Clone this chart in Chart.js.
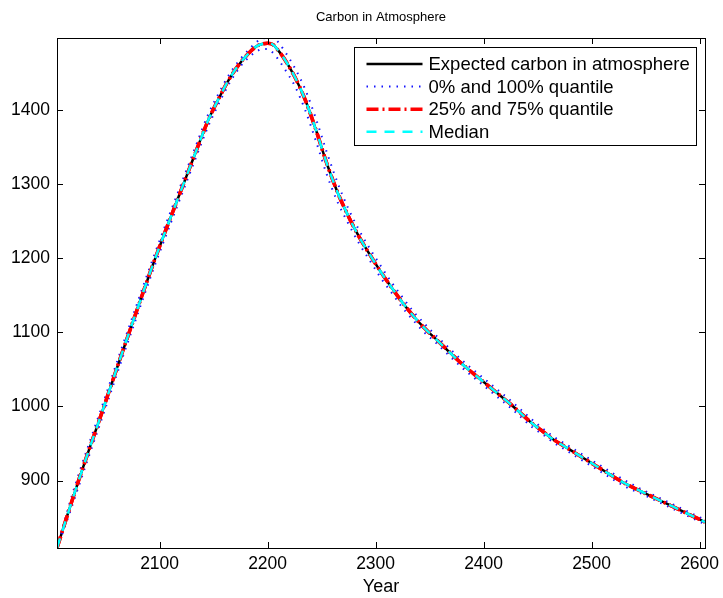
<!DOCTYPE html>
<html>
<head>
<meta charset="utf-8">
<title>Carbon in Atmosphere</title>
<script src="https://cdn.jsdelivr.net/npm/chart.js@4.4.1/dist/chart.umd.min.js"></script>
<style>
  html, body { margin: 0; padding: 0; background: #fff; }
  canvas { display: block; }
</style>
</head>
<body>
<canvas id="carbonChart" width="723" height="598"></canvas>
<script>
const years = [
  2005, 2015, 2025, 2035, 2045, 2055, 2065, 2075, 2085, 2095,
  2105, 2115, 2125, 2135, 2145, 2155, 2165, 2175, 2185, 2190,
  2195, 2200, 2205, 2210, 2215, 2225, 2235, 2245, 2255, 2265,
  2275, 2285, 2295, 2305, 2315, 2325, 2335, 2345, 2355, 2365,
  2375, 2385, 2395, 2405, 2415, 2425, 2435, 2445, 2455, 2465,
  2475, 2485, 2495, 2505, 2515, 2525, 2535, 2545, 2555, 2565,
  2575, 2585, 2595, 2605
];

const expectedCarbon = [
  809, 855, 900, 943, 985, 1028, 1071, 1113, 1155, 1196,
  1235, 1273, 1311, 1349, 1386, 1416, 1443, 1464, 1480, 1486,
  1489, 1490, 1488, 1480, 1470, 1445, 1413, 1372, 1327, 1288,
  1256, 1228, 1204, 1181, 1160, 1140, 1122, 1106, 1092, 1078,
  1064, 1051, 1039, 1027, 1015, 1003, 990, 977, 966, 955,
  946, 937, 928, 919, 910, 901, 893, 886, 879, 872,
  865, 858, 851, 844
];

// 100% quantile (upper blue dots)
const maxQuantile = [
  809, 861, 908, 951, 993, 1036, 1079, 1121, 1163, 1204,
  1243, 1281, 1319, 1357, 1394, 1423, 1449, 1469, 1485, 1492,
  1496, 1497, 1497, 1491, 1481, 1457, 1427, 1387, 1342, 1301,
  1266, 1237, 1212, 1189, 1167, 1147, 1128, 1112, 1097, 1083,
  1069, 1056, 1044, 1032, 1020, 1008, 995, 982, 970, 959,
  950, 941, 932, 923, 914, 905, 897, 889, 882, 875,
  868, 861, 854, 847
];

// 0% quantile (lower blue dots)
const minQuantile = [
  809, 849, 892, 935, 977, 1020, 1063, 1105, 1147, 1188,
  1227, 1265, 1303, 1341, 1378, 1409, 1437, 1459, 1474, 1479,
  1482, 1482, 1477, 1468, 1457, 1433, 1399, 1357, 1312, 1275,
  1246, 1219, 1196, 1173, 1153, 1133, 1116, 1100, 1087, 1073,
  1059, 1046, 1034, 1022, 1010, 998, 985, 972, 962, 951,
  942, 933, 924, 915, 906, 897, 889, 883, 876, 869,
  862, 855, 848, 841
];

// quartiles and median sit right on top of the expected path
const quartile25 = expectedCarbon;
const quartile75 = expectedCarbon;
const medianCarbon = expectedCarbon;

const chartTitle = 'Carbon in Atmosphere';
const seriesNames = [
  'Expected carbon in atmosphere',
  '0% and 100% quantile',
  '25% and 75% quantile',
  'Median'
];
const yearTicks = [2100, 2200, 2300, 2400, 2500, 2600];
const carbonTicks = [900, 1000, 1100, 1200, 1300, 1400];

const fontFamily = "'Liberation Sans', Arial, Helvetica, sans-serif";

function points(values) {
  return years.map((yr, i) => ({ x: yr, y: values[i] }));
}

// title over the axes, box, inward tick marks and the boxed legend, matlab style
const matlabFrame = {
  id: 'matlabFrame',
  afterDatasetsDraw(chart) {
    const { ctx, chartArea: a, scales: { x, y } } = chart;
    ctx.save();

    ctx.fillStyle = '#000';
    ctx.font = '13px ' + fontFamily;
    ctx.textAlign = 'center';
    ctx.textBaseline = 'middle';
    ctx.fillText(chartTitle, (a.left + a.right) / 2, 17);

    ctx.strokeStyle = '#000';
    ctx.lineWidth = 1;
    ctx.setLineDash([]);
    ctx.beginPath();
    yearTicks.forEach(v => {
      const px = Math.round(x.getPixelForValue(v)) + 0.5;
      ctx.moveTo(px, a.bottom);
      ctx.lineTo(px, a.bottom - 6);
      ctx.moveTo(px, a.top);
      ctx.lineTo(px, a.top + 6);
    });
    carbonTicks.forEach(v => {
      const py = Math.round(y.getPixelForValue(v)) + 0.5;
      ctx.moveTo(a.left, py);
      ctx.lineTo(a.left + 6, py);
      ctx.moveTo(a.right, py);
      ctx.lineTo(a.right - 6, py);
    });
    ctx.stroke();
    ctx.strokeRect(a.left + 0.5, a.top + 0.5, a.width, a.height);

    // legend
    const items = chart.data.datasets.filter(d => d.label);
    ctx.font = '18.5px ' + fontFamily;
    const textW = Math.max(...items.map(d => ctx.measureText(d.label).width));
    const boxW = Math.round(74 + textW + 7);
    const boxH = 98;
    const right = a.right - 8.5;
    const left = right - boxW;
    const top = a.top + 9.5;
    ctx.fillStyle = '#fff';
    ctx.fillRect(left, top, boxW, boxH);
    ctx.strokeStyle = '#000';
    ctx.lineWidth = 1;
    ctx.strokeRect(left, top, boxW, boxH);
    items.forEach((d, i) => {
      const rowY = top + 16.5 + i * 22.6;
      ctx.beginPath();
      ctx.strokeStyle = d.borderColor;
      ctx.lineWidth = d.borderWidth;
      ctx.setLineDash(d.borderDash || []);
      ctx.moveTo(left + 12, rowY);
      ctx.lineTo(left + 68, rowY);
      ctx.stroke();
      ctx.setLineDash([]);
      ctx.fillStyle = '#000';
      ctx.textAlign = 'left';
      ctx.textBaseline = 'middle';
      ctx.fillText(d.label, left + 74, rowY + 1);
    });
    ctx.restore();
  }
};

new Chart(document.getElementById('carbonChart'), {
  type: 'line',
  data: {
    datasets: [
      {
        label: seriesNames[0],
        data: points(expectedCarbon),
        borderColor: '#000000',
        borderWidth: 2.5,
        order: 6
      },
      {
        label: seriesNames[1],
        data: points(minQuantile),
        borderColor: 'rgb(20, 20, 255)',
        borderWidth: 2,
        borderDash: [1.5, 6],
        order: 5
      },
      {
        label: '',
        data: points(maxQuantile),
        borderColor: 'rgb(20, 20, 255)',
        borderWidth: 2,
        borderDash: [1.5, 6],
        order: 4
      },
      {
        label: seriesNames[2],
        data: points(quartile25),
        borderColor: 'rgb(255, 0, 0)',
        borderWidth: 3.5,
        borderDash: [12, 4, 2, 4],
        order: 3
      },
      {
        label: '',
        data: points(quartile75),
        borderColor: 'rgb(255, 0, 0)',
        borderWidth: 3.5,
        borderDash: [12, 4, 2, 4],
        order: 2
      },
      {
        label: seriesNames[3],
        data: points(medianCarbon),
        borderColor: 'rgb(0, 255, 255)',
        borderWidth: 2.5,
        borderDash: [10, 8],
        order: 1
      }
    ]
  },
  options: {
    responsive: false,
    animation: false,
    devicePixelRatio: 1,
    layout: { padding: { left: 0, right: 18, top: 38, bottom: 0 } },
    elements: {
      point: { radius: 0 },
      line: { cubicInterpolationMode: 'monotone', borderCapStyle: 'butt' }
    },
    plugins: {
      legend: { display: false },
      tooltip: { enabled: false },
      title: { display: false }
    },
    scales: {
      x: {
        type: 'linear',
        min: 2005,
        max: 2605,
        afterBuildTicks: s => { s.ticks = yearTicks.map(v => ({ value: v })); },
        afterFit: s => { s.height = 50; s.paddingLeft = 0; s.paddingRight = 0; },
        grid: { display: false, drawTicks: false },
        border: { display: false },
        ticks: {
          color: '#000',
          font: { family: fontFamily, size: 17.5 },
          padding: 6,
          maxRotation: 0,
          callback: v => String(v)
        },
        title: {
          display: true,
          text: 'Year',
          color: '#000',
          font: { family: fontFamily, size: 18 },
          padding: { top: 0, bottom: 0 }
        }
      },
      y: {
        type: 'linear',
        min: 809,
        max: 1497,
        afterBuildTicks: s => { s.ticks = carbonTicks.map(v => ({ value: v })); },
        afterFit: s => { s.width = 57; s.paddingTop = 0; s.paddingBottom = 0; },
        grid: { display: false, drawTicks: false },
        border: { display: false },
        ticks: {
          color: '#000',
          font: { family: fontFamily, size: 17.5 },
          padding: 7,
          callback: v => String(v)
        }
      }
    }
  },
  plugins: [matlabFrame]
});
</script>
</body>
</html>
